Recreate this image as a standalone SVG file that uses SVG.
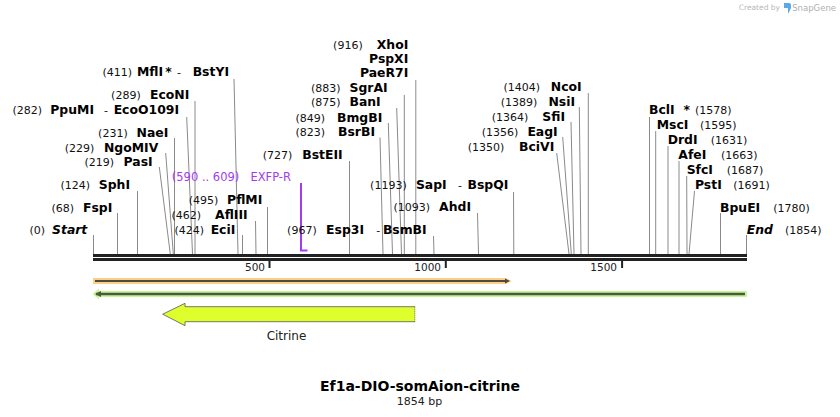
<svg xmlns="http://www.w3.org/2000/svg" width="840" height="417" viewBox="0 0 840 417">
<style>
text{font-family:"DejaVu Sans",Verdana,sans-serif}
.n{font-size:11px;fill:#111}
.e{font-size:12.4px;font-weight:bold;fill:#000}
.ei{font-size:12.4px;font-weight:bold;font-style:italic;fill:#000}
.d{font-size:11px;fill:#111;text-anchor:middle}
.p{font-size:11.5px;fill:#a23cf2}
.r{text-anchor:end}
.c line{stroke:#8a8a8a;stroke-width:1}
.tk{font-size:10.5px;fill:#222;text-anchor:end}
</style>
<rect width="840" height="417" fill="#fff"/>

<!-- logo -->
<g id="logo">
<text x="780" y="10" font-size="7.5" fill="#b8b8b8" text-anchor="end">Created by</text>
<path d="M784 3 h5 a2 2 0 0 1 2 2 v3 l-3 6 v-6 h-4 z" fill="#5aa9e6"/>
<text x="836" y="11" font-size="8.5" fill="#b0b0b0" text-anchor="end">SnapGene</text>
</g>

<!-- backbone -->
<g id="backbone">
<rect x="93" y="254" width="654" height="3" fill="#222"/>
<rect x="93" y="258" width="654" height="3" fill="#222"/>
<rect x="268.5" y="261" width="2" height="7" fill="#222"/>
<rect x="444.8" y="261" width="2" height="7" fill="#222"/>
<rect x="621.1" y="261" width="2" height="7" fill="#222"/>
<text class="tk" x="265" y="271">500</text>
<text class="tk" x="441" y="271">1000</text>
<text class="tk" x="617" y="271">1500</text>
</g>

<!-- connectors -->
<g id="connectors" class="c">
<line x1="93.5" y1="235" x2="93.5" y2="254"/>
<line x1="117.5" y1="213" x2="117.5" y2="254"/>
<line x1="137.5" y1="191" x2="137.5" y2="254"/>
<line x1="159.3" y1="167" x2="170.3" y2="254"/>
<line x1="165.7" y1="153" x2="173.3" y2="254"/>
<line x1="174.5" y1="138" x2="174.5" y2="254"/>
<line x1="186.7" y1="117" x2="192.5" y2="254"/>
<line x1="195" y1="101" x2="195" y2="254"/>
<line x1="234" y1="79" x2="238" y2="254"/>
<line x1="242.5" y1="235" x2="242.5" y2="254"/>
<line x1="255.5" y1="221" x2="256" y2="254"/>
<line x1="267.5" y1="207" x2="267.5" y2="254"/>
<line x1="349.5" y1="161" x2="349.5" y2="254"/>
<line x1="380" y1="137.5" x2="383" y2="254"/>
<line x1="388.3" y1="123" x2="392.5" y2="254"/>
<line x1="396.7" y1="108" x2="401.5" y2="254"/>
<line x1="404.3" y1="95" x2="404.3" y2="254"/>
<line x1="415.8" y1="80" x2="415.8" y2="254"/>
<line x1="433.5" y1="236" x2="434" y2="254"/>
<line x1="477.5" y1="213" x2="478.5" y2="254"/>
<line x1="513.5" y1="192" x2="513.8" y2="254"/>
<line x1="556.7" y1="153" x2="569" y2="254"/>
<line x1="562.7" y1="137" x2="571.3" y2="254"/>
<line x1="571" y1="122" x2="574" y2="254"/>
<line x1="579.3" y1="107" x2="581" y2="254"/>
<line x1="588.3" y1="93" x2="588.3" y2="254"/>
<line x1="649.5" y1="117" x2="649.5" y2="254"/>
<line x1="655.7" y1="131" x2="655.7" y2="254"/>
<line x1="668" y1="146" x2="668" y2="254"/>
<line x1="679" y1="161" x2="679" y2="254"/>
<line x1="686.7" y1="176" x2="687" y2="254"/>
<line x1="694.5" y1="191" x2="689" y2="254"/>
<line x1="720.5" y1="213" x2="720.5" y2="254"/>
<line x1="746.5" y1="235" x2="746.5" y2="254"/>
</g>

<!-- left labels -->
<g id="Start"><text class="n r" x="45" y="234">(0)</text><text class="ei r" x="87.3" y="234">Start</text></g>
<g id="FspI"><text class="n r" x="74" y="211.5">(68)</text><text class="e r" x="112.3" y="211.5">FspI</text></g>
<g id="SphI"><text class="n r" x="90" y="188.5">(124)</text><text class="e r" x="130" y="188.5">SphI</text></g>
<g id="PasI"><text class="n r" x="114" y="166">(219)</text><text class="e r" x="152.7" y="166">PasI</text></g>
<g id="NgoMIV"><text class="n r" x="94.3" y="151.5">(229)</text><text class="e r" x="158.3" y="151.5">NgoMIV</text></g>
<g id="NaeI"><text class="n r" x="127.7" y="137">(231)</text><text class="e r" x="168.3" y="137">NaeI</text></g>
<g id="PpuMI"><text class="n r" x="42" y="114">(282)</text><text class="e r" x="94" y="114">PpuMI</text><text class="d" x="106" y="114">-</text><text class="e r" x="179" y="114">EcoO109I</text></g>
<g id="EcoNI"><text class="n r" x="140.7" y="99">(289)</text><text class="e r" x="189.3" y="99">EcoNI</text></g>
<g id="MflI"><text class="n r" x="132" y="76">(411)</text><text class="e r" x="163" y="76">MflI</text><text class="e" x="168.5" y="76" text-anchor="middle">*</text><text class="d" x="179" y="76">-</text><text class="e r" x="229" y="76">BstYI</text></g>
<g id="PflMI"><text class="n r" x="218.3" y="204">(495)</text><text class="e r" x="262.3" y="204">PflMI</text></g>
<g id="AflIII"><text class="n r" x="201" y="219">(462)</text><text class="e r" x="247.7" y="219">AflIII</text></g>
<g id="EciI"><text class="n r" x="204" y="234">(424)</text><text class="e r" x="235.3" y="234">EciI</text></g>
<g id="EXFP-R"><text class="p r" x="239.3" y="181">(590 .. 609)</text><text class="p r" x="291" y="181">EXFP-R</text>
<path d="M301 183 V250.5 H307.5" fill="none" stroke="#a23cf2" stroke-width="2"/></g>
<g id="BstEII"><text class="n r" x="292.3" y="159">(727)</text><text class="e r" x="342.7" y="159">BstEII</text></g>
<g id="Esp3I"><text class="n r" x="316.7" y="234">(967)</text><text class="e r" x="364" y="234">Esp3I</text><text class="d" x="378.3" y="234">-</text><text class="e r" x="426.7" y="234">BsmBI</text></g>
<g id="AhdI"><text class="n r" x="430" y="211">(1093)</text><text class="e r" x="471" y="211">AhdI</text></g>
<g id="SapI"><text class="n r" x="406.7" y="188.5">(1193)</text><text class="e r" x="446.7" y="188.5">SapI</text><text class="d" x="460" y="188.5">-</text><text class="e r" x="508.3" y="188.5">BspQI</text></g>
<g id="XhoI"><text class="n r" x="362.7" y="49">(916)</text><text class="e r" x="408.3" y="49">XhoI</text><text class="e r" x="408.3" y="62.5">PspXI</text><text class="e r" x="408.3" y="77">PaeR7I</text></g>
<g id="SgrAI"><text class="n r" x="340.5" y="91.5">(883)</text><text class="e r" x="387.7" y="91.5">SgrAI</text></g>
<g id="BanI"><text class="n r" x="340.5" y="106">(875)</text><text class="e r" x="380.7" y="106">BanI</text></g>
<g id="BmgBI"><text class="n r" x="325" y="121.5">(849)</text><text class="e r" x="382.3" y="121.5">BmgBI</text></g>
<g id="BsrBI"><text class="n r" x="325" y="136">(823)</text><text class="e r" x="375" y="136">BsrBI</text></g>
<g id="NcoI"><text class="n r" x="540" y="91">(1404)</text><text class="e r" x="581.7" y="91">NcoI</text></g>
<g id="NsiI"><text class="n r" x="537.3" y="106">(1389)</text><text class="e r" x="575" y="106">NsiI</text></g>
<g id="SfiI"><text class="n r" x="528.3" y="121">(1364)</text><text class="e r" x="565" y="121">SfiI</text></g>
<g id="EagI"><text class="n r" x="518.3" y="136">(1356)</text><text class="e r" x="557.7" y="136">EagI</text></g>
<g id="BciVI"><text class="n r" x="504.3" y="151">(1350)</text><text class="e r" x="554.3" y="151">BciVI</text></g>

<!-- right labels -->
<g id="BclI"><text class="e" x="649" y="114">BclI</text><text class="e" x="686.7" y="114" text-anchor="middle">*</text><text class="n" x="695" y="114">(1578)</text></g>
<g id="MscI"><text class="e" x="656.7" y="128.5">MscI</text><text class="n" x="700" y="128.5">(1595)</text></g>
<g id="DrdI"><text class="e" x="667.7" y="144">DrdI</text><text class="n" x="710.7" y="144">(1631)</text></g>
<g id="AfeI"><text class="e" x="678.3" y="159">AfeI</text><text class="n" x="721" y="159">(1663)</text></g>
<g id="SfcI"><text class="e" x="686.7" y="174">SfcI</text><text class="n" x="726.7" y="174">(1687)</text></g>
<g id="PstI"><text class="e" x="695" y="189">PstI</text><text class="n" x="733.3" y="189">(1691)</text></g>
<g id="BpuEI"><text class="e" x="720" y="211.5">BpuEI</text><text class="n" x="773.3" y="211.5">(1780)</text></g>
<g id="End"><text class="ei" x="746.7" y="234">End</text><text class="n" x="785" y="234">(1854)</text></g>

<!-- features -->
<g id="feature-orange">
<path d="M93 278 H506 L511.5 281 L506 284 H93 Z" fill="#fbcf88"/>
<line x1="95" y1="281" x2="507" y2="281" stroke="#4e4a3e" stroke-width="2"/>
<path d="M505 278.5 L510 281 L505 283.5 Z" fill="#4e4a3e"/>
</g>
<g id="feature-green">
<path d="M747 291 H99 V288.5 L92.5 294 L99 299.5 V297 H747 Z" fill="#c6f59b"/>
<line x1="96" y1="294" x2="745" y2="294" stroke="#4a5a3c" stroke-width="2.5"/>
<path d="M101 291 L95 294 L101 297 Z" fill="#4a5a3c"/>
</g>
<g id="Citrine">
<path d="M415 306.7 H185 V303.3 L162.7 314.2 L185 325.7 V321.7 H415" fill="#dfff2c" stroke="#555" stroke-width="0.8"/>
<line x1="414.8" y1="306.7" x2="414.8" y2="321.7" stroke="#555" stroke-width="0.8" stroke-dasharray="1 1"/>
<text x="286.5" y="340" font-size="12" fill="#222" text-anchor="middle">Citrine</text>
</g>

<g id="title">
<text x="420" y="391" font-size="14" font-weight="bold" fill="#000" text-anchor="middle">Ef1a-DIO-somAion-citrine</text>
<text x="419.5" y="405" font-size="11" fill="#222" text-anchor="middle">1854 bp</text>
</g>
</svg>
